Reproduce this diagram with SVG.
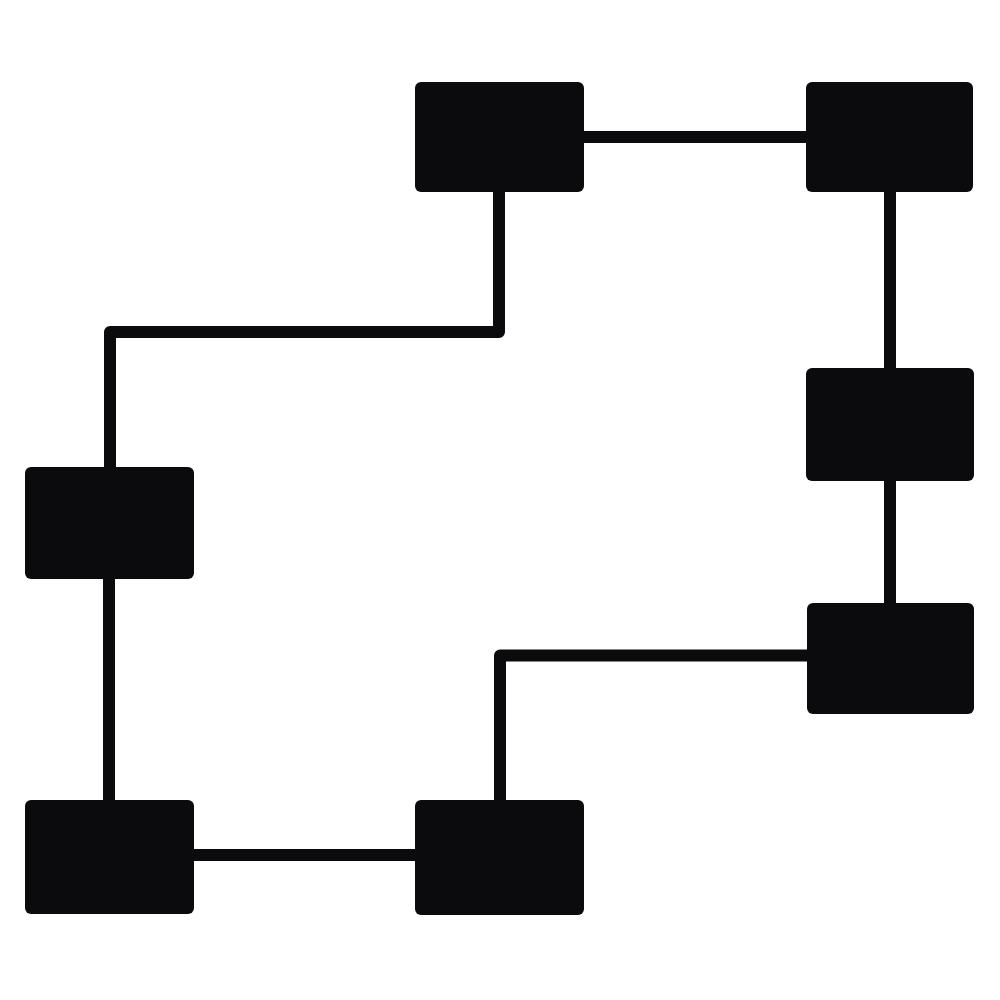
<svg xmlns="http://www.w3.org/2000/svg" width="1000" height="1000" viewBox="0 0 1000 1000">
<style>
.node{fill:#0b0b0d}
.conn{fill:none;stroke:#0b0b0d;stroke-width:12;stroke-linejoin:round;stroke-linecap:butt}
</style>
<rect width="1000" height="1000" fill="#ffffff"/>
<g id="connectors">
<path class="conn" d="M580 137 H810"/>
<path class="conn" d="M499 188 V332 H110 V471"/>
<path class="conn" d="M109 575 V804"/>
<path class="conn" d="M190 855 H419"/>
<path class="conn" d="M890 188 V372"/>
<path class="conn" d="M890 477 V607"/>
<path class="conn" d="M500 804 V655.5 H811"/>
</g>
<g id="node-top-middle"><rect class="node" x="415" y="82" width="169" height="110" rx="6"/></g>
<g id="node-top-right"><rect class="node" x="806" y="82" width="167" height="110" rx="6"/></g>
<g id="node-left-middle"><rect class="node" x="25" y="467" width="169" height="112" rx="6"/></g>
<g id="node-bottom-left"><rect class="node" x="25" y="800" width="169" height="114" rx="6"/></g>
<g id="node-right-middle"><rect class="node" x="806" y="368" width="168" height="113" rx="6"/></g>
<g id="node-right-bottom"><rect class="node" x="807" y="603" width="167" height="111" rx="6"/></g>
<g id="node-bottom-middle"><rect class="node" x="415" y="800" width="169" height="115" rx="6"/></g>
</svg>
